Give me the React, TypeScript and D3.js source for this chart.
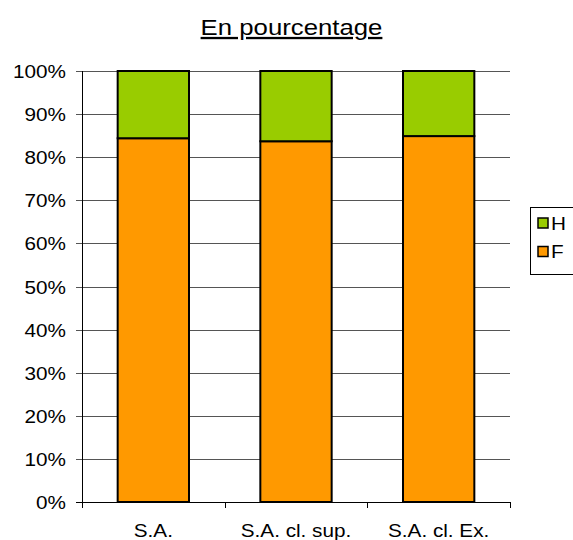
import React, { useEffect, useRef } from 'react';
import * as d3 from 'd3';

// data
const categories = ['S.A.', 'S.A. cl. sup.', 'S.A. cl. Ex.'];
const seriesF = [84.4, 83.7, 84.9];
const seriesH = [15.6, 16.3, 15.1];
const yTicks = [0, 10, 20, 30, 40, 50, 60, 70, 80, 90, 100];
const legendItems = [
  { key: 'H', color: '#99CC00' },
  { key: 'F', color: '#FF9900' },
];

const W = 573;
const H = 540;
const FONT = 'Liberation Sans, Arial, sans-serif';
const STRETCH = 1.12;

export default function App() {
  const ref = useRef<SVGSVGElement>(null);

  useEffect(() => {
    const svg = d3.select(ref.current);
    svg.selectAll('*').remove();

    const margin = { top: 71, right: 63, bottom: 38, left: 82 };
    const width = W - margin.left - margin.right;
    const height = H - margin.top - margin.bottom;

    const x = d3.scaleBand().domain(categories).range([0, width]).paddingInner(0.5).paddingOuter(0.25);
    const y = d3.scaleLinear().domain([0, 100]).range([height, 0]);

    const g = svg.append('g').attr('transform', `translate(${margin.left},${margin.top})`);

    // title
    svg.append('text')
      .attr('transform', `translate(291.5,35) scale(${STRETCH},1)`)
      .attr('text-anchor', 'middle')
      .attr('font-family', FONT)
      .attr('font-size', 23)
      .attr('text-decoration', 'underline')
      .attr('fill', '#000')
      .text('En pourcentage');

    // gridlines
    g.selectAll('line.grid')
      .data(yTicks)
      .enter()
      .append('line')
      .attr('x1', -6)
      .attr('x2', width)
      .attr('y1', (d) => Math.round(y(d)) + 0.5)
      .attr('y2', (d) => Math.round(y(d)) + 0.5)
      .attr('stroke', (d) => (d === 0 ? '#000' : '#555'))
      .attr('stroke-width', 1);

    // y labels
    g.selectAll('text.ytick')
      .data(yTicks)
      .enter()
      .append('text')
      .attr('transform', (d) => `translate(-16,${y(d) + 7}) scale(${STRETCH},1)`)
      .attr('text-anchor', 'end')
      .attr('font-family', FONT)
      .attr('font-size', 18.5)
      .attr('fill', '#000')
      .text((d) => d + '%');

    // y axis line
    g.append('line')
      .attr('x1', 0.5).attr('x2', 0.5)
      .attr('y1', 0).attr('y2', height)
      .attr('stroke', '#000');

    // x axis ticks
    const step = width / categories.length;
    g.selectAll('line.xtick')
      .data(d3.range(categories.length + 1))
      .enter()
      .append('line')
      .attr('x1', (i) => Math.round(i * step) + 0.5)
      .attr('x2', (i) => Math.round(i * step) + 0.5)
      .attr('y1', height)
      .attr('y2', height + 6)
      .attr('stroke', '#000');

    // bars
    const stack = categories.map((c, i) => ({ c, f: seriesF[i], h: seriesH[i] }));
    g.selectAll('rect.f')
      .data(stack)
      .enter()
      .append('rect')
      .attr('x', (d) => x(d.c)!)
      .attr('y', (d) => y(d.f))
      .attr('width', x.bandwidth())
      .attr('height', (d) => height - y(d.f))
      .attr('fill', '#FF9900')
      .attr('stroke', '#000')
      .attr('stroke-width', 2);

    g.selectAll('rect.h')
      .data(stack)
      .enter()
      .append('rect')
      .attr('x', (d) => x(d.c)!)
      .attr('y', (d) => y(d.f + d.h))
      .attr('width', x.bandwidth())
      .attr('height', (d) => y(d.f) - y(d.f + d.h))
      .attr('fill', '#99CC00')
      .attr('stroke', '#000')
      .attr('stroke-width', 2);

    // category labels
    g.selectAll('text.cat')
      .data(categories)
      .enter()
      .append('text')
      .attr('transform', (d) => `translate(${x(d)! + x.bandwidth() / 2},${height + 35}) scale(${STRETCH},1)`)
      .attr('text-anchor', 'middle')
      .attr('font-family', FONT)
      .attr('font-size', 18.5)
      .attr('fill', '#000')
      .text((d) => d);

    // legend
    const lg = svg.append('g').attr('transform', 'translate(530,207)');
    lg.append('rect')
      .attr('x', 0.5).attr('y', 0.5)
      .attr('width', 60).attr('height', 67)
      .attr('fill', '#fff')
      .attr('stroke', '#000');
    legendItems.forEach((it, i) => {
      const row = lg.append('g').attr('transform', `translate(8,${11 + i * 28.5})`);
      row.append('rect')
        .attr('width', 10).attr('height', 10)
        .attr('fill', it.color)
        .attr('stroke', '#000')
        .attr('stroke-width', 1.5);
      row.append('text')
        .attr('transform', `translate(13,11.5) scale(${STRETCH},1)`)
        .attr('font-family', FONT)
        .attr('font-size', 18.5)
        .attr('fill', '#000')
        .text(it.key);
    });
  }, []);

  return (
    <svg
      ref={ref}
      width={W}
      height={H}
      style={{ position: 'absolute', left: 0, top: 0, display: 'block', background: '#fff' }}
    />
  );
}
